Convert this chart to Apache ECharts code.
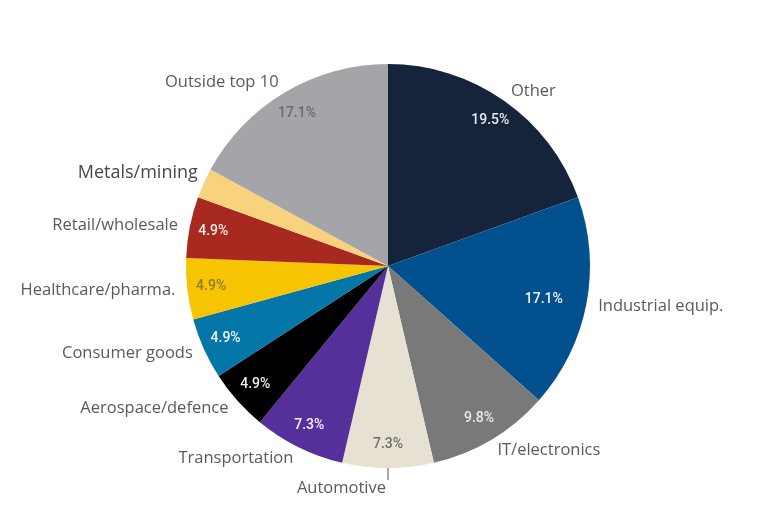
<!DOCTYPE html>
<html>
<head>
<meta charset="utf-8">
<script src="https://cdn.jsdelivr.net/npm/echarts@6/dist/echarts.min.js"></script>
<style>
  html, body { margin: 0; padding: 0; background: #ffffff; }
  #chart { width: 758px; height: 514px; }
</style>
</head>
<body>
<div id="chart"></div>
<script>
// Sector breakdown, share of total (%), clockwise from 12 o'clock
const categories = [
  'Other', 'Industrial equip.', 'IT/electronics', 'Automotive', 'Transportation',
  'Aerospace/defence', 'Consumer goods', 'Healthcare/pharma.', 'Retail/wholesale',
  'Metals/mining', 'Outside top 10'
];
const shares = [19.5, 17.1, 9.8, 7.3, 7.3, 4.9, 4.9, 4.9, 4.9, 2.4, 17.1];
// Slices that carry a printed percentage (Metals/mining is too thin)
const showShare = [true, true, true, true, true, true, true, true, true, false, true];

const sliceColors = [
  '#15243a', '#03508f', '#797979', '#e6e1d2', '#55309a',
  '#000000', '#0477a8', '#f6c400', '#a8291f', '#f9d27e', '#a4a5a9'
];
const shareTextColors = [
  '#e6e8ec', '#f2f4f8', '#e8e8e8', '#6e6e6e', '#f2f0f8',
  '#eeeeee', '#f0f4f8', '#8c7a2c', '#f4ecea', '#ffffff', '#6a6a6a'
];

const CX = 388, CY = 266, R = 202;

const pieData = categories.map((name, i) => {
  const item = {
    name: name,
    value: shares[i],
    itemStyle: { color: sliceColors[i] },
    labelLine: { show: name === 'Automotive', length: 12, length2: 0,
                 lineStyle: { color: '#555', width: 1 } }
  };
  if (name === 'Metals/mining') {
    item.label = { fontSize: 18, color: '#474747' };
  }
  return item;
});

const shareData = categories.map((name, i) => ({
  name: name,
  value: shares[i],
  label: { show: showShare[i], color: shareTextColors[i] }
}));

const chart = echarts.init(document.getElementById('chart'), null, { renderer: 'canvas' });
chart.setOption({
  backgroundColor: '#ffffff',
  animation: false,
  series: [
    {
      // slices with category names outside
      type: 'pie',
      center: [CX, CY],
      radius: [0, R],
      startAngle: 90,
      clockwise: true,
      avoidLabelOverlap: false,
      silent: true,
      itemStyle: { borderWidth: 0 },
      label: {
        show: true,
        position: 'outside',
        formatter: '{b}',
        fontFamily: 'Open Sans',
        fontSize: 16.5,
        color: '#5a5a5a',
        distanceToLabelLine: 0
      },
      labelLine: { length: 15, length2: 0 },
      labelLayout: function (p) {
        const name = categories[p.dataIndex];
        if (name === 'Automotive') return { align: 'right', dx: -2, dy: 8 };
        if (name === 'Metals/mining') return { dx: 5, dy: -5 };
        return {};
      },
      data: pieData
    },
    {
      // transparent ring carrying the percentage labels
      type: 'pie',
      center: [CX, CY],
      radius: [148, R],
      startAngle: 90,
      clockwise: true,
      silent: true,
      avoidLabelOverlap: false,
      itemStyle: { color: 'rgba(0,0,0,0)', borderWidth: 0 },
      label: {
        show: true,
        position: 'inside',
        formatter: function (p) { return p.value.toFixed(1) + '%'; },
        fontFamily: 'Roboto',
        fontSize: 14,
        fontWeight: 500
      },
      labelLine: { show: false },
      labelLayout: function (p) {
        if (categories[p.dataIndex] === 'Industrial equip.') return { dx: -19 };
        return {};
      },
      data: shareData
    }
  ]
});
</script>
</body>
</html>
